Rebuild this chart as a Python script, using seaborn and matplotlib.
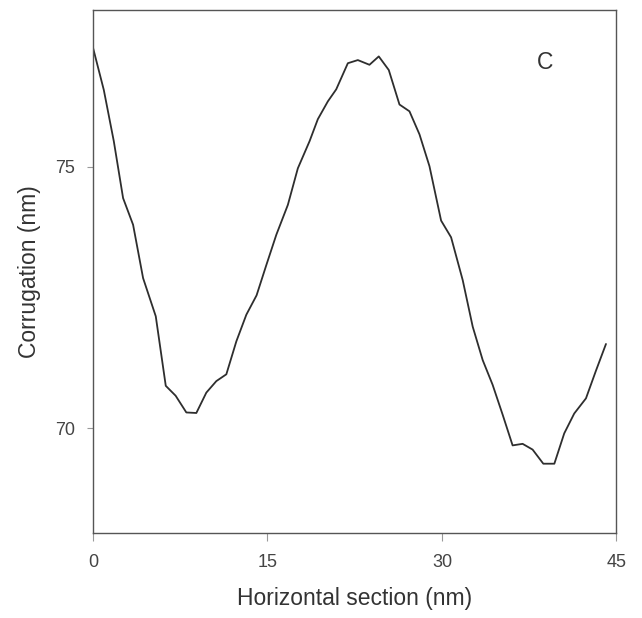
import numpy as np
import pandas as pd
import seaborn as sns
from matplotlib import pyplot as plt

sns.set_style("white")
plt.rcParams["font.family"] = ["Liberation Sans", "DejaVu Sans"]

# horizontal position (nm) and corrugation height (nm)
section_nm = [0.00, 0.92, 1.78, 2.58, 3.44, 4.30, 5.39, 6.25, 7.10, 8.02,
              8.88, 9.74, 10.60, 11.46, 12.32, 13.18, 14.06, 14.90, 15.76, 16.75,
              17.61, 18.62, 19.33, 20.19, 20.91, 21.91, 22.77, 23.77, 24.57, 25.43,
              26.35, 27.21, 28.07, 28.93, 29.93, 30.79, 31.79, 32.65, 33.51, 34.36,
              35.22, 36.08, 36.94, 37.80, 38.72, 39.67, 40.52, 41.38, 42.39, 43.25,
              44.11]
corrugation_nm = [77.27, 76.47, 75.49, 74.40, 73.89, 72.87, 72.14, 70.81, 70.62, 70.30,
                  70.29, 70.68, 70.90, 71.03, 71.66, 72.17, 72.54, 73.12, 73.70, 74.27,
                  74.97, 75.49, 75.91, 76.25, 76.48, 76.98, 77.04, 76.95, 77.11, 76.85,
                  76.19, 76.06, 75.62, 75.01, 73.97, 73.65, 72.83, 71.94, 71.30, 70.83,
                  70.26, 69.67, 69.70, 69.59, 69.32, 69.32, 69.90, 70.28, 70.57, 71.10,
                  71.61]
x_ticks = [0, 15, 30, 45]
y_ticks = [70, 75]

df = pd.DataFrame({"x": section_nm, "y": corrugation_nm})

fig = plt.figure(figsize=(6.42, 6.18), dpi=100)
ax = fig.add_axes([0.145, 0.138, 0.815, 0.846])
sns.lineplot(data=df, x="x", y="y", sort=False, color="#2e2e2e", linewidth=1.3, ax=ax)

ax.set_xlim(0, 45)
ax.set_ylim(68, 78)
ax.set_xticks(x_ticks)
ax.set_yticks(y_ticks)
for s in ax.spines.values():
    s.set_color("#555555")
    s.set_linewidth(1.0)
ax.tick_params(axis="x", bottom=True, direction="out", length=6, width=0.8, color="#999999",
               pad=9, labelsize=13, labelcolor="#444444")
ax.tick_params(axis="y", left=True, direction="out", length=4, width=0.8, color="#999999",
               pad=9, labelsize=13, labelcolor="#444444")
ax.set_xlabel("Horizontal section (nm)", fontsize=16.5, color="#333333", labelpad=12)
ax.set_ylabel("Corrugation (nm)", fontsize=16.5, color="#333333", labelpad=10)
ax.text(0.864, 0.90, "C", transform=ax.transAxes, fontsize=16.5, color="#333333",
        ha="center", va="center")

plt.savefig("out.png", dpi=100)
plt.close()
